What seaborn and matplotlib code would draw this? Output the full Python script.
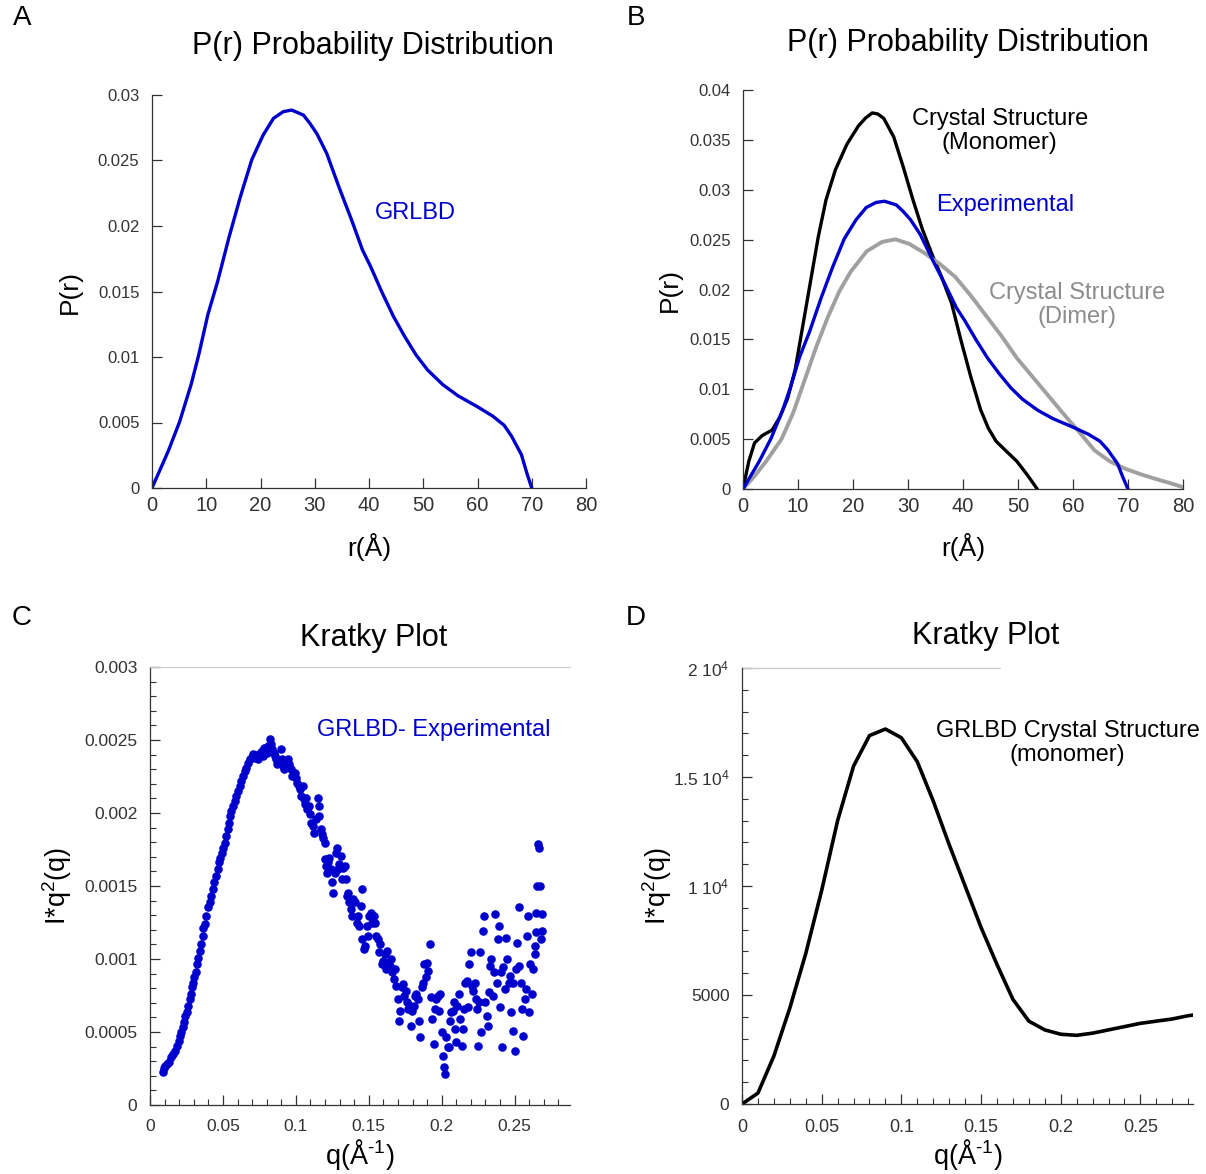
import numpy as np
import pandas as pd
import matplotlib
matplotlib.use("Agg")
import matplotlib.pyplot as plt
from matplotlib.ticker import MultipleLocator, FuncFormatter
import seaborn as sns

# ---------------- data ----------------
# P(r) of GRLBD, experimental (panels A and B)
r_exp = [0, 3.0, 5.1, 7.2, 8.6, 10.3, 12.1, 14.2, 16.3, 18.4, 20.5, 22.4, 24.2, 25.75, 27.9,
         29.1, 30.4, 32.2, 34.6, 36.7, 38.8, 40.3, 42.4, 44.5, 46.6, 48.7, 50.8, 53.6, 56.4,
         60.0, 62.8, 64.9, 66.3, 68.1, 69.1, 70.0]
p_exp = [0, 0.00282, 0.00507, 0.00789, 0.01014, 0.01324, 0.01577, 0.01915, 0.02225,
         0.02507, 0.02695, 0.02822, 0.02873, 0.02885, 0.02847, 0.02784, 0.02704, 0.02555,
         0.02282, 0.02056, 0.01817, 0.0169, 0.01493, 0.0131, 0.01155, 0.01014, 0.00901,
         0.00789, 0.00704, 0.0062, 0.00549, 0.00479, 0.00394, 0.00254, 0.00113, 0]

# P(r) crystal structure, monomer (panel B)
r_mono = [0, 1.05, 2.1, 3.5, 5.3, 6.7, 8.1, 9.5, 10.9, 12.3, 13.7, 15.1, 16.8, 18.9,
          21.0, 22.3, 23.5, 24.5, 25.6, 27.4, 29.1, 30.9, 32.6, 34.4, 36.1, 37.9, 39.6,
          41.4, 43.2, 44.6, 46.0, 47.7, 49.8, 51.6, 53.5]
p_mono = [0, 0.00277, 0.00462, 0.00536, 0.00591, 0.00721, 0.00906, 0.0120, 0.01645,
          0.02089, 0.02532, 0.0290, 0.0320, 0.03457, 0.03641, 0.0372, 0.0377, 0.0376,
          0.03715, 0.0353, 0.03235, 0.0290, 0.02606, 0.02348, 0.02126, 0.01867, 0.01497,
          0.01128, 0.00795, 0.0061, 0.0048, 0.00388, 0.00277, 0.00148, 0]

# P(r) crystal structure, dimer (panel B)
r_dimer = [0, 2.1, 4.2, 7.0, 9.1, 11.2, 13.3, 15.4, 17.5, 19.6, 22.5, 25.3, 27.7, 30.2,
           33.0, 35.8, 38.6, 41.4, 44.2, 47.0, 49.8, 52.6, 55.4, 58.2, 61.1, 63.9, 66.7,
           69.5, 72.3, 75.1, 77.9, 80.0]
p_dimer = [0, 0.00129, 0.00277, 0.005, 0.0076, 0.0109, 0.01423, 0.0172, 0.0198, 0.0218,
           0.02384, 0.02477, 0.02503, 0.02458, 0.02366, 0.02255, 0.02126, 0.0194, 0.01737,
           0.01534, 0.01312, 0.01128, 0.00943, 0.00758, 0.00573, 0.00388, 0.00277, 0.00203,
           0.00148, 0.001, 0.00055, 0.00018]

# Kratky plot, experimental (panel C); q in 1e-3 / A, I*q^2 in units of 1e-4
q_kexp = [8.7, 9.6, 10.5, 11.4, 12.8, 14.1, 15.9, 17.3, 18.2, 19.6, 20.5, 21.4, 22.3, 23.2,
          24.1, 25.1, 26.2, 27.3, 28.2, 29.1, 29.6, 30.5, 31.4, 32.3, 33.2, 34.2, 35.1, 36.0,
          36.4, 37.8, 38.7, 40.1, 41.0, 42.1, 43.3, 44.2, 45.5, 46.5, 47.4, 48.3, 49.2, 50.1,
          51.2, 52.4, 53.5, 54.2, 54.6, 55.8, 56.9, 58.3, 59.2, 60.6, 61.5, 62.6, 63.8, 65.1,
          66.0, 67.4, 68.3, 69.7, 70.6, 72.0, 72.9, 74.2, 75.1, 76.5, 77.4, 78.3, 79.2, 80.2,
          81.1, 82.0,
          82.9, 83.8, 84.7, 85.6, 86.5, 87.4, 88.3, 89.7, 90.2, 91.1, 92.0, 92.9, 93.8, 94.7,
          95.6, 96.5, 97.5, 98.4, 99.3, 100.2, 101.1, 102.0, 102.9, 103.8, 104.7, 105.7,
          106.6, 107.0, 107.9, 108.8, 109.7, 110.7, 111.6, 112.5, 113.8, 115.0, 115.7, 116.1,
          117.0, 117.9, 118.9, 119.8,
          119.8, 120.7, 121.1, 122.0, 123.0, 123.9, 124.8, 125.7, 126.6, 127.5, 128.0, 128.9,
          129.8, 130.7, 131.6, 132.5, 133.4, 134.3, 134.8, 135.7, 136.6, 137.5, 138.4, 139.3,
          140.7, 141.6, 142.5, 143.4, 144.4, 145.3, 145.7, 146.6, 147.5, 148.5, 149.4, 150.3,
          151.2, 152.1, 153.5, 154.4, 155.3, 156.2, 157.1, 158.0, 158.9, 159.8, 160.8, 161.7,
          162.6, 163.5, 164.4, 165.3, 166.2, 167.1, 168.0, 168.9, 169.9, 170.8, 171.7, 172.6,
          173.5, 174.4, 175.3, 176.2, 177.1, 178.1, 179.0, 179.9, 180.8, 181.7, 182.6, 183.5,
          184.4, 185.3, 186.3, 187.2, 188.1, 189.0, 189.9, 190.8, 191.7, 192.6, 193.5, 194.4,
          195.4, 196.3, 197.2, 198.1, 199.0, 199.9, 200.8, 201.7, 202.2, 203.1, 204.0, 204.9,
          205.8, 206.7, 207.7, 208.6, 209.0, 209.9, 210.8, 211.8, 212.7, 213.6, 214.5, 215.4,
          216.3, 217.2, 218.1, 219.0, 220.0, 220.9, 221.8, 222.7, 223.6, 224.5, 225.0, 225.9,
          226.3, 227.2, 228.1, 229.1, 230.0, 230.9, 231.8, 232.7, 233.2, 234.1, 235.0, 235.9,
          236.8, 237.7, 238.6, 239.1, 240.0, 240.9, 241.4, 242.3, 243.2, 244.1, 245.0, 245.9,
          246.8, 247.7, 248.6, 249.1, 250.0, 250.9, 251.8, 252.7, 253.2, 254.1, 255.0, 255.9,
          256.8, 257.7, 258.2, 259.1, 260.0, 260.9, 261.8, 262.8, 263.7, 264.1, 264.6, 265.0,
          265.5, 265.9, 266.4, 267.3, 268.2, 268.7, 269.1]
i_kexp = [2.28, 2.51, 2.69, 2.81, 2.97, 3.26, 3.49, 3.72, 4.06, 4.40, 4.74, 5.02, 5.31, 5.66,
          6.11, 6.39, 6.80, 7.25, 7.60, 8.05, 8.39, 8.74, 9.08, 9.65, 10.10, 10.56, 11.02, 11.59,
          12.09, 12.39, 12.96, 13.53, 13.87, 14.32, 14.78, 15.24, 15.69, 16.15, 16.61, 16.95,
          17.29, 17.63, 17.97, 18.43, 18.89, 19.34, 19.80, 20.14, 20.48, 20.83, 21.17, 21.51,
          21.85, 22.19, 22.54, 22.88, 23.11, 23.45, 23.68, 23.86, 24.02, 23.79, 23.95, 23.68,
          24.13, 24.25, 23.91, 24.48, 24.36, 24.13, 24.59, 25.05,
          24.70, 24.36, 24.13, 23.91, 23.68, 23.33, 23.45, 24.36, 23.68, 23.22, 22.99, 23.45,
          23.22, 23.68, 23.33, 22.99, 22.54, 22.65, 22.76, 22.42, 22.08, 21.85, 21.62, 21.17,
          21.85, 20.94, 20.60, 21.05, 20.26, 20.48, 19.91, 19.34, 19.11, 18.66, 19.57, 21.05,
          20.48, 19.80, 18.89, 18.54, 18.32, 17.97,
          16.83, 16.38, 15.92, 16.61, 16.95, 16.15, 15.24, 14.55, 15.92, 17.29, 17.63, 16.15,
          16.49, 17.06, 15.47, 16.26, 16.38, 15.47, 14.32, 14.55, 13.87, 13.41, 12.96, 14.10,
          13.87, 12.50, 12.96, 12.27, 13.64, 14.78, 11.36, 10.68, 10.90, 12.27, 11.59, 12.96,
          13.18, 12.50, 12.96, 12.50, 11.59, 11.36, 10.45, 11.02, 9.65, 9.88, 10.33, 9.31,
          10.56, 9.76, 9.53, 9.99, 9.08, 8.62, 9.31, 8.17, 7.25, 5.77, 6.46, 8.05,
          8.28, 7.48, 7.82, 7.03, 6.57, 6.80, 5.43, 6.46, 6.80, 7.48, 7.60, 7.25,
          5.77, 4.63, 8.05, 8.39, 9.65, 8.74, 9.76, 9.19, 11.02, 7.37, 5.89, 4.17,
          6.57, 7.25, 7.48, 6.46, 7.60, 4.97, 3.38, 2.58, 2.12, 4.63, 3.95, 3.95,
          5.77, 6.34, 6.46, 7.03, 5.20, 4.29, 6.80, 7.60, 5.89, 4.06, 5.20, 6.57,
          8.39, 8.51, 6.68, 9.65, 10.45, 8.17, 7.82, 8.39, 7.25, 6.57, 4.06, 7.03,
          10.45, 4.97, 11.93, 12.96, 7.03, 6.11, 5.43, 7.71, 9.53, 9.99, 7.48, 9.08,
          13.07, 8.39, 11.36, 12.27, 6.68, 9.08, 3.95, 9.42, 7.94, 11.47, 9.99, 8.39,
          8.85, 6.34, 5.09, 8.39, 3.72, 9.31, 11.13, 13.53, 9.53, 8.39, 6.57, 4.74,
          7.25, 7.94, 11.59, 12.96, 6.34, 9.65, 7.60, 9.31, 10.33, 10.90, 11.82, 13.18,
          15.01, 17.86, 17.63, 15.01, 11.36, 11.93, 13.07]

# Kratky plot, crystal structure monomer (panel D)
q_kcry = [0, 0.01, 0.02, 0.03, 0.04, 0.05, 0.06, 0.07, 0.08, 0.09, 0.10, 0.11, 0.12, 0.13,
          0.14, 0.15, 0.16, 0.17, 0.18, 0.19, 0.20, 0.21, 0.22, 0.23, 0.24, 0.25, 0.26, 0.27,
          0.28, 0.29]
i_kcry = [0, 500, 2200, 4400, 6900, 9800, 13000, 15500, 16900, 17200, 16800, 15700, 13900,
          11900, 10000, 8100, 6400, 4800, 3800, 3400, 3200, 3150, 3250, 3400, 3550, 3700,
          3800, 3900, 4050, 4150]

# tick labels
pr_yticks_a = [0, 0.005, 0.01, 0.015, 0.02, 0.025, 0.03]
pr_yticks_b = [0, 0.005, 0.01, 0.015, 0.02, 0.025, 0.03, 0.035, 0.04]
pr_xticks = [0, 10, 20, 30, 40, 50, 60, 70, 80]
kr_xticks = [0, 0.05, 0.1, 0.15, 0.2, 0.25]
kr_yticks_c = [0, 0.0005, 0.001, 0.0015, 0.002, 0.0025, 0.003]
kr_yticks_d = [0, 5000, 10000, 15000, 20000]
kr_ylabels_d = ["0", "5000", r"1 10$^{4}$", r"1.5 10$^{4}$", r"2 10$^{4}$"]

df_exp = pd.DataFrame({"r": r_exp, "p": p_exp})
df_mono = pd.DataFrame({"r": r_mono, "p": p_mono})
df_dimer = pd.DataFrame({"r": r_dimer, "p": p_dimer})
df_kexp = pd.DataFrame({"q": np.array(q_kexp) / 1000.0, "i": np.array(i_kexp) * 1e-4})
df_kcry = pd.DataFrame({"q": q_kcry, "i": i_kcry})

# ---------------- style ----------------
sns.set_theme(style="ticks")
plt.rcParams['font.family'] = ['Liberation Sans', 'DejaVu Sans']
plt.rcParams['mathtext.fontset'] = 'custom'
plt.rcParams['mathtext.rm'] = 'Liberation Sans'
plt.rcParams['mathtext.it'] = 'Liberation Sans:italic'
plt.rcParams['mathtext.bf'] = 'Liberation Sans:bold'

BLUE = '#0000cc'
GREY = '#a0a0a0'
AXC = '#333333'
W, H = 1206, 1174
LINE_KW = dict(sort=False, estimator=None, solid_joinstyle='round', solid_capstyle='round')

fig = plt.figure(figsize=(12.06, 11.74), dpi=100)


def px_axes(x0, x1, y_top, y_bot):
    return fig.add_axes([x0 / W, 1 - y_bot / H, (x1 - x0) / W, (y_bot - y_top) / H])


def style_axes(ax, xsize, ysize, xpad=6):
    for s in ['top', 'right']:
        ax.spines[s].set_visible(False)
    for s in ['left', 'bottom']:
        ax.spines[s].set_color(AXC)
        ax.spines[s].set_linewidth(0.9)
    ax.tick_params(axis='both', which='major', direction='in', length=7, width=0.9,
                   color=AXC, labelcolor=AXC)
    ax.tick_params(axis='both', which='minor', direction='in', length=4, width=0.8,
                   color=AXC)
    ax.tick_params(axis='x', labelsize=xsize, pad=xpad)
    ax.tick_params(axis='y', labelsize=ysize, pad=9)


fmt_g = FuncFormatter(lambda v, pos: '%g' % v)

# ---- A ----
axA = px_axes(152, 586, 95, 488)
sns.lineplot(data=df_exp, x='r', y='p', ax=axA, color=BLUE, linewidth=2.4, **LINE_KW)
axA.set_xlim(0, 80)
axA.set_ylim(0, 0.03)
axA.set_xticks(pr_xticks)
axA.set_yticks(pr_yticks_a)
axA.yaxis.set_major_formatter(fmt_g)
style_axes(axA, 14.5, 12)
axA.text(48.5, 0.021, 'GRLBD', color=BLUE, fontsize=17, ha='center', va='center')

# ---- B ----
axB = px_axes(743, 1183, 90, 489)
sns.lineplot(data=df_mono, x='r', y='p', ax=axB, color='black', linewidth=2.4, **LINE_KW)
sns.lineplot(data=df_dimer, x='r', y='p', ax=axB, color=GREY, linewidth=2.8, **LINE_KW)
sns.lineplot(data=df_exp, x='r', y='p', ax=axB, color=BLUE, linewidth=2.4, **LINE_KW)
axB.set_xlim(0, 80)
axB.set_ylim(0, 0.04)
axB.set_xticks(pr_xticks)
axB.set_yticks(pr_yticks_b)
axB.yaxis.set_major_formatter(fmt_g)
style_axes(axB, 14.5, 12)
axB.text(46.7, 0.0359, 'Crystal Structure\n(Monomer)', color='black', fontsize=17,
         ha='center', va='center', linespacing=1.1)
axB.text(47.6, 0.0285, 'Experimental', color=BLUE, fontsize=17, ha='center', va='center')
axB.text(60.7, 0.01845, 'Crystal Structure\n(Dimer)', color='#8c8c8c', fontsize=17,
         ha='center', va='center', linespacing=1.1)

# ---- C ----
axC = px_axes(150, 570, 667, 1105)
sns.scatterplot(data=df_kexp, x='q', y='i', ax=axC, color=BLUE, s=38, linewidth=0)
axC.set_xlim(0, 0.288)
axC.set_ylim(0, 0.003)
axC.set_xticks(kr_xticks)
axC.set_yticks(kr_yticks_c)
axC.xaxis.set_major_formatter(fmt_g)
axC.yaxis.set_major_formatter(fmt_g)
axC.xaxis.set_minor_locator(MultipleLocator(0.01))
axC.yaxis.set_minor_locator(MultipleLocator(0.0001))
style_axes(axC, 12.5, 12.5, xpad=10)
axC.spines['top'].set_visible(True)
axC.spines['top'].set_color('#cccccc')
axC.spines['top'].set_linewidth(0.8)
axC.tick_params(axis='x', which='both', top=False)
axC.text(0.1945, 0.00257, 'GRLBD- Experimental', color=BLUE, fontsize=17,
         ha='center', va='center')

# ---- D ----
axD = px_axes(742, 1193, 668, 1104)
sns.lineplot(data=df_kcry, x='q', y='i', ax=axD, color='black', linewidth=2.6, **LINE_KW)
axD.set_xlim(0, 0.283)
axD.set_ylim(0, 20000)
axD.set_xticks(kr_xticks)
axD.xaxis.set_major_formatter(fmt_g)
axD.set_yticks(kr_yticks_d, kr_ylabels_d)
axD.xaxis.set_minor_locator(MultipleLocator(0.01))
axD.yaxis.set_minor_locator(MultipleLocator(1000))
style_axes(axD, 13, 12.5, xpad=11)
axD.axhline(20000, xmin=0, xmax=0.572, color='#cccccc', linewidth=1.0, clip_on=False)
axD.text(0.2043, 16560, 'GRLBD Crystal Structure\n(monomer)', color='black', fontsize=17,
         ha='center', va='center', linespacing=1.1)

# axis labels
for ax, xl, yl, yx, xy, sz in [
        (axA, 'r(Å)', 'P(r)', 82, 533, 19),
        (axB, 'r(Å)', 'P(r)', 682, 533, 19),
        (axC, r'q(Å$^{\text{-1}}$)', r'I*q$^{2}$(q)', 74, 1137, 19.5),
        (axD, r'q(Å$^{\text{-1}}$)', r'I*q$^{2}$(q)', 674, 1137, 19.5)]:
    ax.set_xlabel(xl, fontsize=sz, color='black')
    ax.set_ylabel(yl, fontsize=sz, color='black')
    pos = ax.get_position()
    ax.yaxis.set_label_coords(yx / W, pos.y0 + pos.height / 2, transform=fig.transFigure)
    ax.xaxis.set_label_coords(pos.x0 + pos.width / 2, 1 - xy / H, transform=fig.transFigure)

# titles and panel letters
for txt, x, y in [('P(r) Probability Distribution', 373, 46),
                  ('P(r) Probability Distribution', 968, 43),
                  ('Kratky Plot', 374, 638),
                  ('Kratky Plot', 986, 636)]:
    fig.text(x / W, 1 - y / H, txt, fontsize=22, ha='center', va='center', color='black')

for txt, x, y in [('A', 22, 18), ('B', 636, 18), ('C', 22, 618), ('D', 636, 618)]:
    fig.text(x / W, 1 - y / H, txt, fontsize=20, ha='center', va='center', color='black')

fig.savefig('out.png', dpi=100)
